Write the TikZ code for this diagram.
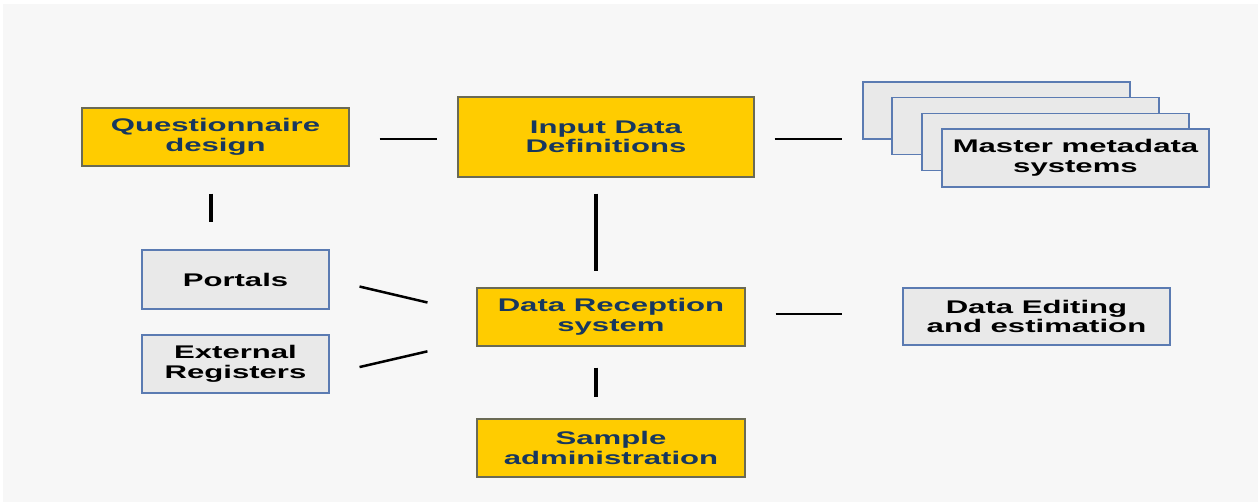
\documentclass[tikz,border=0pt]{standalone}
\usepackage{fontspec}
\newfontfamily\boxfont[FakeStretch=1.7]{Liberation Sans}
\definecolor{bgc}{HTML}{F7F7F7}
\definecolor{yel}{HTML}{FFCC00}
\definecolor{yelb}{HTML}{6A6A55}
\definecolor{navy}{HTML}{17375E}
\definecolor{gfill}{HTML}{E9E9E9}
\definecolor{gbord}{HTML}{5B7BB2}
\begin{document}
\begin{tikzpicture}[x=1pt,y=-1pt,
  base/.style={font=\boxfont\bfseries\fontsize{18.3}{19.5}\selectfont, align=center, inner sep=0pt, line width=1.1pt},
  ybox/.style={base, fill=yel, draw=yelb, text=navy},
  gbox/.style={base, fill=gfill, draw=gbord, text=black},
  conn/.style={line width=2.3pt, black},
  vconn/.style={line width=3.6pt, black},
  dconn/.style={line width=2.5pt, black}]
\fill[white] (0,0) rectangle (1258,502);
\fill[bgc] (3,4) rectangle (1258,502);
\node[ybox, minimum width=267pt, minimum height=58pt] (Q) at (215.5,137) {Questionnaire\\design};
\node[ybox, minimum width=296pt, minimum height=80pt] (I) at (606,137) {Input Data\\Definitions};
\node[ybox, minimum width=268pt, minimum height=58pt] (R) at (611,317) {Data Reception\\system};
\node[ybox, minimum width=268pt, minimum height=58pt] (S) at (611,448) {Sample\\administration};
\node[gbox, minimum width=267pt, minimum height=57pt] (E) at (1036.5,316.5) {Data Editing\\and estimation};
\node[gbox, minimum width=187pt, minimum height=59pt] (P) at (235.5,279.5) {Portals};
\node[gbox, minimum width=187pt, minimum height=58pt] (X) at (235.5,364) {External\\Registers};
\node[gbox, minimum width=267pt, minimum height=57pt] (M1) at (996.5,110.5) {};
\node[gbox, minimum width=267pt, minimum height=57pt] (M2) at (1025.5,126) {};
\node[gbox, minimum width=267pt, minimum height=57pt] (M3) at (1055.5,142) {};
\node[gbox, minimum width=267pt, minimum height=58pt] (M4) at (1075.5,158) {Master metadata\\systems};
% connectors
\draw[conn, shorten <=30pt, shorten >=20pt] ([yshift=-2pt]Q.east) -- ([yshift=-2pt]Q.east -| I.west);
\draw[conn, shorten <=20pt, shorten >=20pt] ([yshift=-2pt]I.east) -- ([yshift=-2pt]I.east -| M1.west);
\draw[vconn, shorten <=16pt, shorten >=16pt] ([xshift=-10pt]I.south) -- ([xshift=-10pt]I.south |- R.north);
\draw[vconn, shorten <=21pt, shorten >=21pt] ([xshift=-15pt]R.south) -- ([xshift=-15pt]S.north);
\draw[conn, shorten <=30pt, shorten >=60pt] ([yshift=3pt]R.east) -- ([yshift=3pt]R.east -| E.west);
\draw[vconn, shorten <=27pt, shorten >=27pt] ([xshift=-4.5pt]Q.south) -- ([xshift=-4.5pt]Q.south |- P.north);
\draw[dconn, shorten <=30.8pt, shorten >=50.3pt] (P.east) -- ([yshift=3pt]R.west);
\draw[dconn, shorten <=30.8pt, shorten >=50.3pt] ([yshift=-10pt]X.east) -- ([yshift=-23pt]R.west);
\end{tikzpicture}
\end{document}
